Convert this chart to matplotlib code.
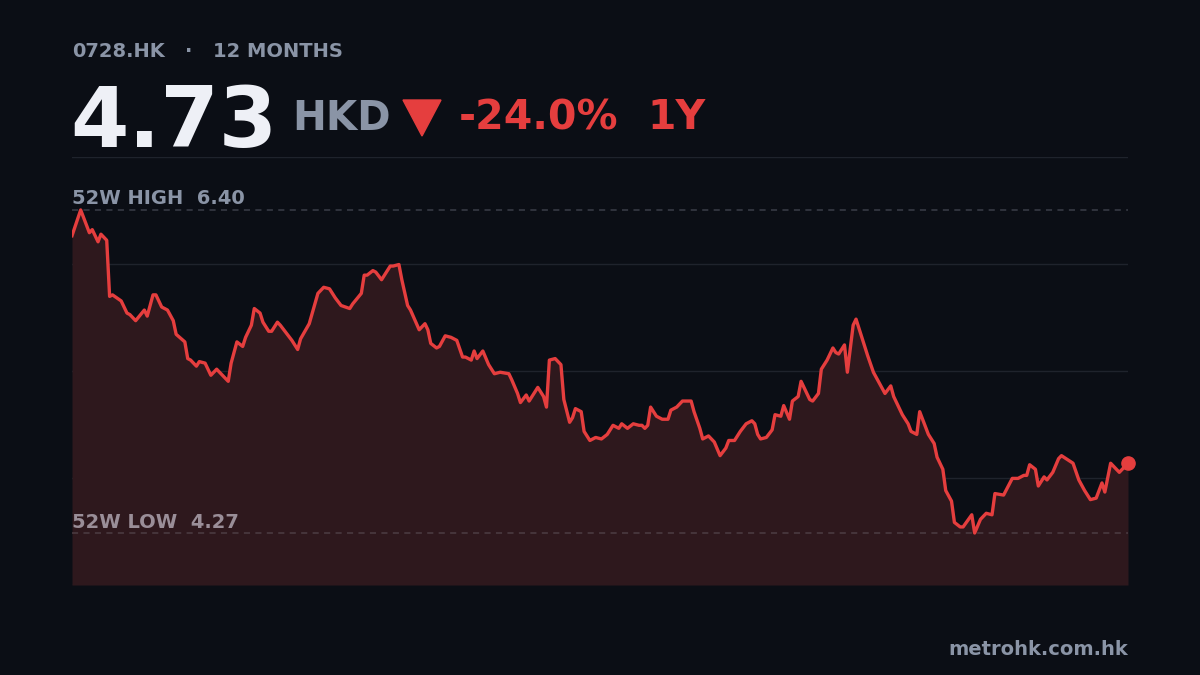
import numpy as np
import matplotlib
matplotlib.use("Agg")
import matplotlib.pyplot as plt

# 0728.HK closing prices (day offset within the 12 months)
days = [0, 3, 6, 7, 9, 10, 12, 13, 14, 17,
        19, 20, 22, 25, 26, 28, 29, 31, 33, 35,
        36, 39, 40, 41, 43, 44, 46, 48, 50, 52,
        54, 55, 57, 59, 60, 62, 63, 65, 66, 68,
        69, 71, 72, 74, 76, 78, 79, 82, 85, 87,
        89, 91, 93, 96, 97, 100, 101, 102, 104, 105,
        107, 108, 110, 111, 113, 114, 116, 117, 120, 122,
        123, 124, 126, 127, 129, 131, 133, 135, 136, 138,
        139, 140, 142, 144, 146, 148, 151, 152, 154, 155,
        157, 158, 161, 163, 164, 165, 167, 169, 170, 172,
        173, 174, 176, 177, 179, 181, 183, 185, 187, 189,
        190, 192, 194, 196, 197, 198, 199, 200, 202, 204,
        206, 207, 209, 211, 212, 214, 215, 217, 218, 220,
        222, 224, 226, 227, 229, 231, 233, 235, 236, 237,
        238, 240, 242, 243, 245, 246, 248, 249, 251, 252,
        255, 256, 258, 259, 261, 263, 264, 265, 267, 268,
        270, 271, 273, 275, 277, 279, 281, 283, 284, 287,
        289, 290, 292, 293, 294, 296, 298, 299, 301, 302,
        304, 305, 307, 308, 311, 312, 314, 316, 318, 319,
        322, 325, 327, 329, 330, 331, 333, 334, 336, 337,
        339, 341, 342, 346, 348, 350, 352, 354, 356, 357,
        359, 361, 362, 364, 365]

prices = [6.23, 6.40, 6.25, 6.27, 6.19, 6.24, 6.20, 5.83, 5.84, 5.80,
          5.72, 5.71, 5.67, 5.74, 5.70, 5.84, 5.84, 5.76, 5.74, 5.67,
          5.58, 5.53, 5.42, 5.41, 5.37, 5.40, 5.39, 5.31, 5.35, 5.31,
          5.27, 5.39, 5.53, 5.50, 5.56, 5.64, 5.75, 5.72, 5.66, 5.60,
          5.60, 5.66, 5.64, 5.59, 5.54, 5.48, 5.55, 5.65, 5.85, 5.89,
          5.88, 5.82, 5.77, 5.75, 5.78, 5.85, 5.97, 5.97, 6.00, 5.99,
          5.94, 5.97, 6.03, 6.03, 6.04, 5.94, 5.77, 5.74, 5.61, 5.65,
          5.61, 5.52, 5.49, 5.50, 5.57, 5.56, 5.54, 5.43, 5.43, 5.41,
          5.47, 5.42, 5.47, 5.38, 5.32, 5.33, 5.32, 5.28, 5.19, 5.13,
          5.18, 5.14, 5.23, 5.17, 5.10, 5.41, 5.42, 5.38, 5.15, 5.00,
          5.03, 5.09, 5.07, 4.94, 4.88, 4.90, 4.89, 4.92, 4.98, 4.96,
          4.99, 4.96, 4.99, 4.98, 4.98, 4.96, 4.98, 5.10, 5.04, 5.02,
          5.02, 5.08, 5.10, 5.14, 5.14, 5.14, 5.07, 4.96, 4.89, 4.91,
          4.87, 4.78, 4.83, 4.88, 4.88, 4.94, 4.99, 5.01, 4.99, 4.92,
          4.89, 4.90, 4.95, 5.05, 5.04, 5.11, 5.02, 5.14, 5.17, 5.27,
          5.15, 5.14, 5.19, 5.35, 5.41, 5.49, 5.46, 5.45, 5.51, 5.33,
          5.64, 5.68, 5.56, 5.44, 5.33, 5.26, 5.19, 5.24, 5.17, 5.05,
          4.99, 4.94, 4.92, 5.07, 5.02, 4.92, 4.86, 4.77, 4.69, 4.55,
          4.48, 4.34, 4.31, 4.31, 4.39, 4.27, 4.36, 4.40, 4.39, 4.53,
          4.52, 4.63, 4.63, 4.65, 4.65, 4.72, 4.69, 4.58, 4.64, 4.62,
          4.67, 4.76, 4.78, 4.73, 4.62, 4.55, 4.49, 4.50, 4.60, 4.54,
          4.73, 4.69, 4.67, 4.71, 4.73]

ticker = "0728.HK"
period = "12 MONTHS"
last = 4.73
change = "-24.0%"
high52 = 6.40
low52 = 4.27

BG = "#0b0e15"
RED = "#e53e3e"
GREY = "#8a94a6"
GRID = "#1f232c"

fig = plt.figure(figsize=(12, 6.75), dpi=100, facecolor=BG)
ax = fig.add_axes([0.06, 0.1333, 0.88, 0.6341])
ax.set_facecolor(BG)

lo, hi = 3.927, 6.749
ax.set_ylim(lo, hi)
ax.set_xlim(days[0], days[-1])

for y in np.linspace(lo, hi, 5):
    ax.axhline(y, color=GRID, lw=1, zorder=1)

ax.fill_between(days, prices, lo, color="#2e181d", lw=0, zorder=2)
ax.axhline(high52, color="#3a3e48", lw=1.1, ls=(0, (4, 3.5)), zorder=3)
ax.axhline(low52, color="#4d3d44", lw=1.1, ls=(0, (4, 3.5)), zorder=3)
ax.plot(days, prices, color=RED, lw=2.4, solid_joinstyle="round", zorder=4)
ax.plot(days[-1], prices[-1], "o", color=RED, ms=9.5, zorder=5, clip_on=False)

for s in ax.spines.values():
    s.set_visible(False)
ax.set_xticks([])
ax.set_yticks([])

W, H = 1200, 675
def fx(px):
    return px / W
def fy(py):
    return 1 - py / H

fig.text(fx(72), fy(57), ticker, color=GREY, fontsize=14,
         fontweight="bold", va="baseline")
fig.text(fx(189), fy(57), "·", color=GREY, fontsize=14,
         fontweight="bold", va="baseline", ha="center")
fig.text(fx(213), fy(57), period, color=GREY, fontsize=14,
         fontweight="bold", va="baseline")
fig.text(fx(70), fy(147), f"{last:.2f}", color="#eef0f6", fontsize=60.5,
         fontweight="bold", va="baseline")
fig.text(fx(292), fy(130), "HKD", color=GREY, fontsize=29, fontweight="bold",
         va="baseline")
tri = plt.Polygon([[fx(403), fy(100)], [fx(441), fy(100)], [fx(422), fy(136)]],
                  closed=True, color=RED, transform=fig.transFigure)
fig.add_artist(tri)
fig.text(fx(459), fy(129), change, color=RED, fontsize=29.5, fontweight="bold",
         va="baseline")
fig.text(fx(647), fy(129), "1Y", color=RED, fontsize=29.5, fontweight="bold",
         va="baseline")

fig.text(fx(72), fy(204), f"52W HIGH  {high52:.2f}", color=GREY, fontsize=14,
         fontweight="bold", va="baseline")
fig.text(fx(72), fy(528), f"52W LOW  {low52:.2f}", color="#9a8e98", fontsize=14,
         fontweight="bold", va="baseline")
fig.text(fx(1128), fy(655), "metrohk.com.hk", color=GREY, fontsize=14,
         fontweight="bold", va="baseline", ha="right")

fig.savefig("out.png", dpi=100, facecolor=BG)
